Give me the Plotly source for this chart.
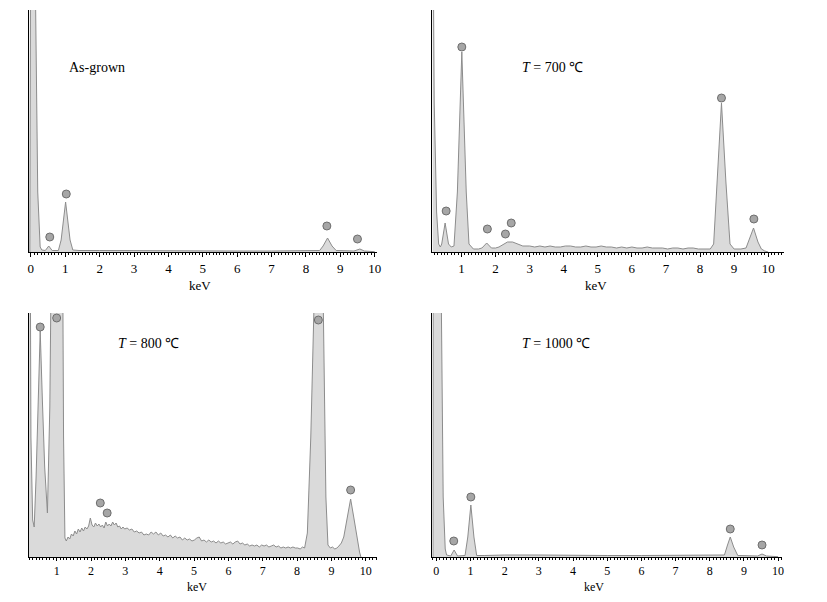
import plotly.graph_objects as go

# ---------------- data ----------------
# Panel 1: As-grown
energy_asgrown = [-0.03, 0.0, 0.05, 0.12, 0.20, 0.27, 0.32, 0.42, 0.52, 0.62, 0.80, 0.88, 1.01, 1.14,
                  1.22, 1.40, 2.0, 3.0, 4.0, 5.0, 6.0, 7.0, 8.3, 8.40, 8.50, 8.63, 8.76, 8.88, 9.40,
                  9.57, 9.70, 9.90, 10.0]
counts_asgrown = [0, 400, 600, 300, 60, 5, 2, 1.5, 6, 1.5, 1.5, 12, 50, 12,
                  2, 1.5, 1.5, 1.2, 1.2, 1.3, 1.0, 1.0, 1.0, 1.5, 6, 14, 6, 1.5, 1.0,
                  3, 1.0, 0.5, 0.3]

# Panel 2: T = 700 C
energy_700 = [0.15, 0.20, 0.27, 0.33, 0.38, 0.42, 0.52, 0.62, 0.70, 0.78, 0.88, 1.01, 1.14, 1.22,
              1.35, 1.50, 1.60, 1.74, 1.88, 2.00, 2.10, 2.20, 2.35, 2.50, 2.65, 2.80, 3.00, 3.15,
              3.30, 3.45, 3.60, 3.75, 3.90, 4.05, 4.20, 4.35, 4.50, 4.65, 4.80, 4.95, 5.10, 5.25,
              5.40, 5.55, 5.70, 5.85, 6.00, 6.15, 6.30, 6.45, 6.60, 6.75, 6.90, 7.05, 7.20, 7.35,
              7.50, 7.65, 7.80, 7.95, 8.10, 8.30, 8.40, 8.50, 8.63, 8.76, 8.88, 9.00, 9.20, 9.35,
              9.45, 9.57, 9.70, 9.80, 9.90, 10.0]
counts_700 = [400, 150, 40, 8, 5, 8, 29, 8, 5, 6, 60, 200, 60, 8,
              3, 3, 4, 9, 4, 4, 5, 7, 10, 10, 8, 6, 6, 5,
              6, 5, 6, 5, 5, 6, 6, 5, 5, 6, 5, 5, 6, 5,
              5, 4, 5, 4, 5, 4, 4, 5, 4, 4, 4, 3, 4, 4,
              3, 4, 4, 3, 3, 3, 8, 70, 149, 70, 8, 3, 3, 4,
              14, 24, 10, 3, 1, 0]

# Panel 3: T = 800 C
energy_800 = [0.19, 0.25, 0.30, 0.345, 0.40, 0.46, 0.52, 0.58, 0.65, 0.73, 0.80, 0.87, 0.93, 1.00,
              1.10, 1.16, 1.20, 1.24,
              1.28, 1.33, 1.38, 1.43, 1.48, 1.53, 1.58, 1.63, 1.68, 1.73, 1.78, 1.83, 1.88, 1.93,
              1.98, 2.03, 2.08, 2.13, 2.18, 2.23, 2.28, 2.33, 2.38, 2.43, 2.48, 2.53, 2.58, 2.63,
              2.68, 2.73, 2.78, 2.83, 2.88, 2.93, 2.98, 3.05, 3.12, 3.19, 3.26, 3.33, 3.40, 3.47,
              3.54, 3.61, 3.68, 3.75, 3.82, 3.89, 3.96, 4.03, 4.10, 4.17, 4.24, 4.31, 4.38, 4.45,
              4.52, 4.59, 4.66, 4.73, 4.80, 4.87, 4.94, 5.01, 5.08, 5.15, 5.22, 5.29, 5.36, 5.43,
              5.50, 5.57, 5.64, 5.71, 5.78, 5.85, 5.92, 5.99, 6.06, 6.13, 6.20, 6.27, 6.34, 6.41,
              6.48, 6.55, 6.62, 6.69, 6.76, 6.83, 6.90, 6.97, 7.04, 7.11, 7.18, 7.25, 7.32, 7.39,
              7.46, 7.53, 7.60, 7.67, 7.74, 7.81, 7.88, 7.95, 8.02, 8.09, 8.16, 8.22,
              8.30, 8.40, 8.50, 8.63, 8.76, 8.84, 8.90, 8.97, 9.03, 9.10, 9.16, 9.22, 9.29, 9.36,
              9.46, 9.56, 9.66, 9.75, 9.82, 9.86]
counts_800 = [700, 120, 37, 30, 80, 160, 226, 160, 90, 44, 150, 400, 500, 500,
              500, 400, 120, 19,
              16, 20, 18, 23, 21, 26, 23, 28, 25, 29, 26, 30, 28, 31,
              39, 32, 30, 34, 31, 33, 30, 32, 29, 35, 31, 33, 31, 35,
              32, 34, 30, 31, 28, 30, 28, 29, 27, 28, 25, 26, 24, 25,
              22, 23, 22, 25, 23, 25, 22, 24, 21, 22, 20, 22, 19, 21,
              19, 20, 17, 19, 17, 18, 16, 17, 19, 20, 16, 17, 15, 17,
              15, 16, 14, 16, 14, 15, 13, 14, 15, 13, 15, 16, 13, 14,
              12, 13, 11, 12, 11, 12, 10, 12, 11, 12, 10, 11, 12, 10,
              11, 9, 10, 9, 10, 9, 10, 9, 9, 8, 10, 9,
              24, 120, 260, 400, 260, 60, 12, 9, 10, 8, 9, 11, 14, 20,
              40, 58, 38, 17, 5, 0]

# Panel 4: T = 1000 C
energy_1000 = [-0.10, -0.09, 0.05, 0.13, 0.20, 0.26, 0.30, 0.42, 0.52, 0.62, 0.84, 0.92, 1.01, 1.10,
               1.18, 1.40, 2.0, 3.0, 4.0, 5.0, 6.0, 7.0, 8.3, 8.43, 8.52, 8.60, 8.70, 8.82, 9.40,
               9.53, 9.66, 9.90, 10.0]
counts_1000 = [0, 400, 600, 300, 60, 8, 2, 1, 7, 1, 1.5, 20, 52, 20,
               1.5, 1.5, 2, 2, 1.5, 1.5, 1.5, 1.5, 1.5, 2, 12, 20, 10, 1.5, 1,
               3, 1, 0.5, 0.3]

# element peak markers: (energy, height) per panel
peak_e_asgrown = [0.55, 1.03, 8.61, 9.50]
peak_h_asgrown = [15, 58, 26, 13]
peak_e_700 = [0.55, 1.01, 1.76, 2.29, 2.46, 8.63, 9.58]
peak_h_700 = [41, 205, 23, 18, 29, 154, 33]
peak_e_800 = [0.52, 1.00, 2.27, 2.47, 8.62, 9.56]
peak_h_800 = [230, 239, 54, 44, 237, 67]
peak_e_1000 = [0.51, 1.01, 8.60, 9.53]
peak_h_1000 = [16, 60, 28, 12]

panel_titles = ["As-grown", "<i>T</i> = 700 ℃", "<i>T</i> = 800 ℃", "<i>T</i> = 1000 ℃"]
x_title = "keV"

# ---------------- figure ----------------
# The page body has an 8 px margin, so the figure is 8 px smaller on each side
# and all reference pixel positions are shifted by 8 px.
OFF = 8
W, H = 827 - 2 * OFF, 602 - 2 * OFF
FONT = "Liberation Serif, Times New Roman, serif"
FILL = "#dadada"
LINE = "#8c8c8c"

def px_x(p):
    return (p - OFF) / W

def px_y(p):
    return 1 - (p - OFF) / H

panels = [
    dict(e=energy_asgrown, c=counts_asgrown, pe=peak_e_asgrown, ph=peak_h_asgrown,
         xd=[px_x(28), px_x(378)], yd=[px_y(252), px_y(10)], xr=[-0.058, 10.06], yr=[0, 242],
         tf=13, tl=4),
    dict(e=energy_700, c=counts_700, pe=peak_e_700, ph=peak_h_700,
         xd=[px_x(434), px_x(788)], yd=[px_y(252), px_y(10)], xr=[0.146, 10.47], yr=[0, 242],
         tf=13, tl=4),
    dict(e=energy_800, c=counts_800, pe=peak_e_800, ph=peak_h_800,
         xd=[px_x(28), px_x(378)], yd=[px_y(557), px_y(313)], xr=[0.19, 10.32], yr=[0, 244],
         tf=12, tl=3),
    dict(e=energy_1000, c=counts_1000, pe=peak_e_1000, ph=peak_h_1000,
         xd=[px_x(434), px_x(786)], yd=[px_y(557), px_y(313)], xr=[-0.116, 10.12], yr=[0, 244],
         tf=12, tl=3),
]

fig = go.Figure()
layout = dict(width=W, height=H, margin=dict(l=0, r=0, t=0, b=0),
              paper_bgcolor="white", plot_bgcolor="white", showlegend=False,
              font=dict(family=FONT, size=14, color="black"))

for i, p in enumerate(panels, start=1):
    sfx = "" if i == 1 else str(i)
    fig.add_trace(go.Scatter(x=p["e"], y=p["c"], mode="lines", fill="tozeroy",
                             fillcolor=FILL, line=dict(color=LINE, width=1),
                             xaxis="x" + sfx, yaxis="y" + sfx, hoverinfo="skip"))
    fig.add_trace(go.Scatter(x=p["pe"], y=p["ph"], mode="markers",
                             marker=dict(size=8, color="#a6a6a6",
                                         line=dict(color="#6e6e6e", width=1)),
                             xaxis="x" + sfx, yaxis="y" + sfx, hoverinfo="skip",
                             cliponaxis=False))
    layout["xaxis" + sfx] = dict(domain=p["xd"], range=p["xr"], anchor="y" + sfx,
                                 showline=True, linecolor="black", linewidth=1,
                                 showgrid=False, zeroline=False,
                                 tick0=0, dtick=1, ticks="outside", ticklen=p["tl"],
                                 tickcolor="black", tickwidth=1,
                                 tickfont=dict(family=FONT, size=p["tf"]),
                                 minor=dict(dtick=0.1, tick0=0, ticks="outside", ticklen=2,
                                            tickcolor="black"))
    layout["yaxis" + sfx] = dict(domain=p["yd"], range=p["yr"], anchor="x" + sfx,
                                 showline=True, linecolor="black", linewidth=1,
                                 showgrid=False, zeroline=False, showticklabels=False,
                                 ticks="")

ann = []
title_pos = [(97, 67), (555, 67), (148, 343), (558, 343)]
for t, (x, y) in zip(panel_titles, title_pos):
    ann.append(dict(text=t, x=px_x(x), y=px_y(y), xref="paper", yref="paper",
                    showarrow=False, xanchor="center", yanchor="middle",
                    font=dict(family=FONT, size=14, color="black")))
kev_pos = [(200, 285, 13), (599, 285, 13), (197, 587, 12), (597, 587, 12)]
for (x, y, fs) in kev_pos:
    ann.append(dict(text=x_title, x=px_x(x), y=px_y(y), xref="paper", yref="paper",
                    showarrow=False, xanchor="center", yanchor="middle",
                    font=dict(family=FONT, size=fs, color="black")))
layout["annotations"] = ann

fig.update_layout(**layout)
fig.write_html("out.html")
